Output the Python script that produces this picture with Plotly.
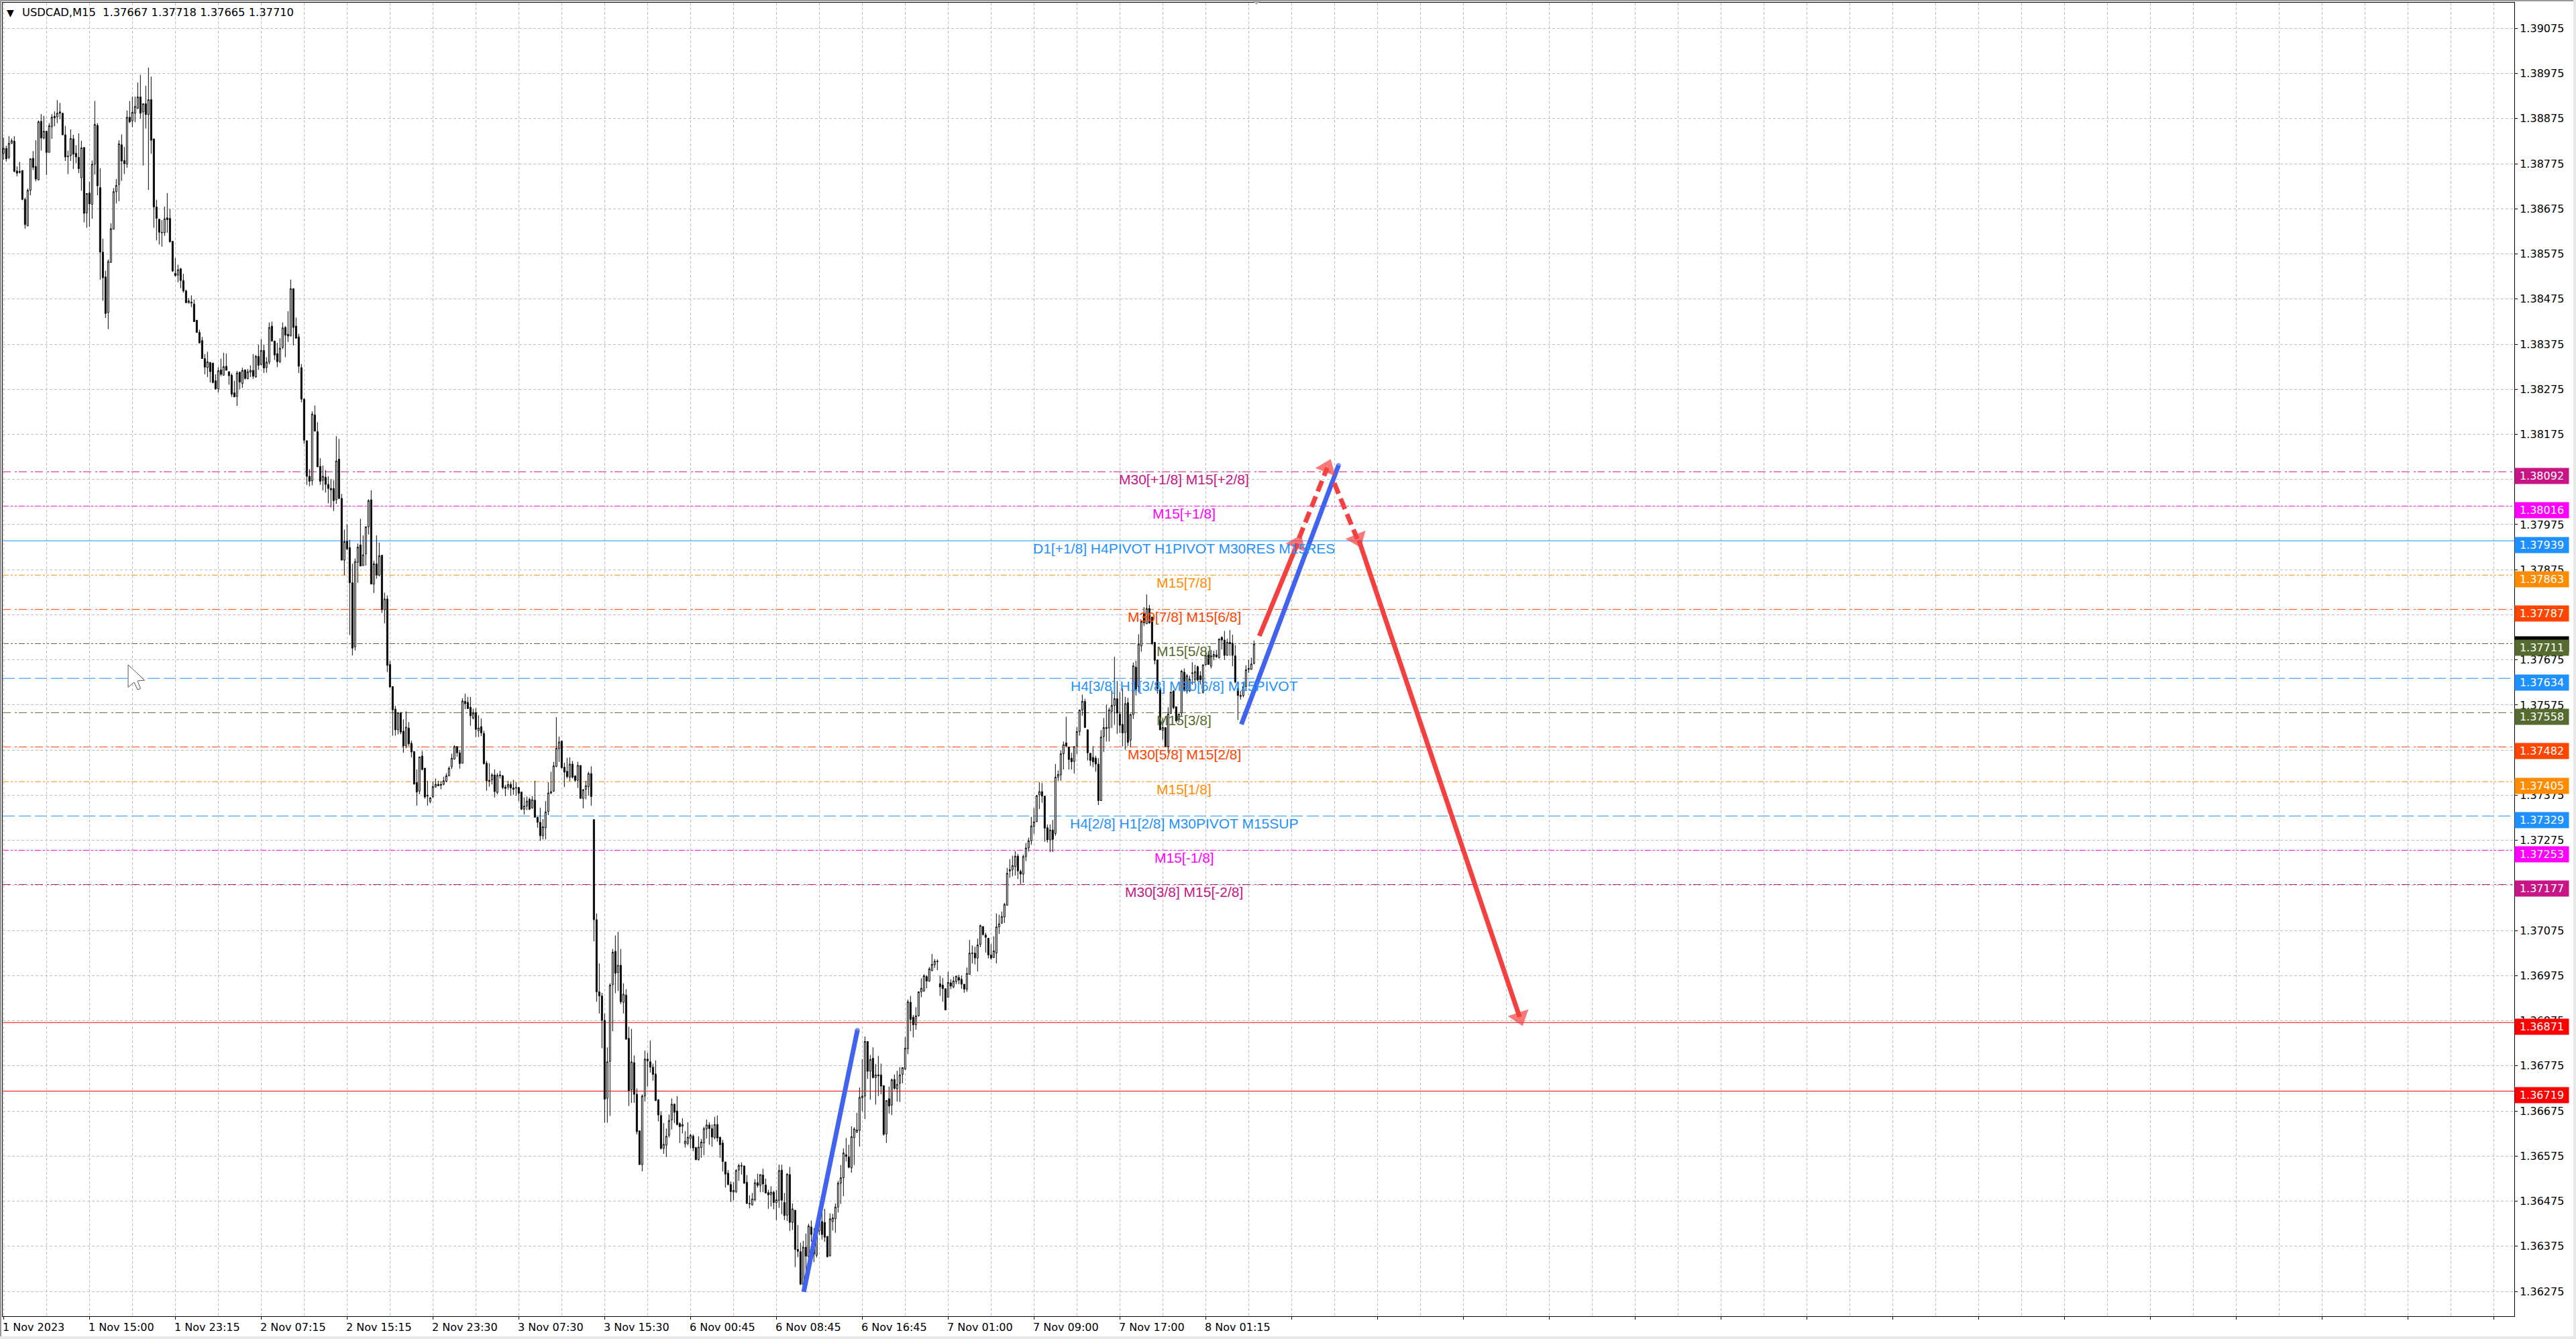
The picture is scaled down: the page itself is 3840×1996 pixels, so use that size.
import numpy as np
import plotly.graph_objects as go

# USDCAD M15 candles, values are price above 1.3 in 1e-5 units (8798 = 1.38798)
bar_open = [
    8798, 8809, 8789, 8820, 8825, 8759, 8758, 8760, 8696, 8637, 8716, 8787, 8769, 8739, 8869, 8832,
    8847, 8800, 8857, 8880, 8879, 8890, 8887, 8839, 8792, 8793, 8830, 8798, 8789, 8744, 8811, 8666,
    8710, 8685, 8774, 8860, 8722, 8579, 8524, 8445, 8556, 8630, 8713, 8729, 8817, 8782, 8774, 8878,
    8870, 8887, 8898, 8923, 8890, 8908, 8884, 8917, 8830, 8679, 8652, 8623, 8622, 8655, 8654, 8603,
    8532, 8528, 8542, 8516, 8493, 8466, 8468, 8464, 8428, 8401, 8383, 8343, 8323, 8334, 8333, 8294,
    8276, 8318, 8306, 8326, 8314, 8306, 8267, 8259, 8313, 8288, 8318, 8298, 8313, 8317, 8302, 8348,
    8330, 8361, 8323, 8335, 8415, 8382, 8354, 8336, 8368, 8412, 8397, 8393, 8498, 8415, 8391, 8323,
    8253, 8161, 8082, 8072, 8218, 8181, 8104, 8073, 8080, 8064, 8055, 8055, 8030, 8120, 8033, 7896,
    7938, 7924, 7846, 7704, 7891, 7930, 7884, 7910, 7970, 8030, 7843, 7888, 7863, 7907, 7786, 7810,
    7665, 7616, 7566, 7520, 7558, 7517, 7485, 7524, 7490, 7472, 7403, 7384, 7462, 7435, 7373, 7361,
    7371, 7393, 7399, 7399, 7399, 7406, 7418, 7438, 7455, 7483, 7469, 7446, 7583, 7581, 7570, 7546,
    7558, 7518, 7527, 7512, 7446, 7408, 7409, 7420, 7381, 7420, 7418, 7393, 7393, 7399, 7391, 7392,
    7392, 7382, 7344, 7351, 7366, 7347, 7364, 7326, 7315, 7285, 7303, 7339, 7380, 7384, 7439, 7478,
    7495, 7437, 7428, 7415, 7444, 7418, 7408, 7441, 7368, 7388, 7394, 7423, 7321, 7099, 6939, 6930,
    6876, 6703, 6785, 6955, 7029, 6982, 6998, 6916, 6932, 6836, 6722, 6782, 6712, 6631, 6556, 6708,
    6790, 6784, 6772, 6757, 6700, 6665, 6592, 6599, 6621, 6655, 6690, 6675, 6647, 6641, 6602, 6603,
    6614, 6619, 6594, 6567, 6594, 6604, 6635, 6644, 6636, 6616, 6645, 6617, 6604, 6562, 6537, 6512,
    6495, 6496, 6544, 6554, 6553, 6517, 6470, 6467, 6478, 6516, 6510, 6533, 6511, 6494, 6489, 6495,
    6472, 6477, 6544, 6472, 6444, 6534, 6428, 6455, 6368, 6363, 6290, 6373, 6352, 6418, 6401, 6355,
    6409, 6430, 6428, 6397, 6354, 6430, 6436, 6462, 6515, 6527, 6578, 6573, 6549, 6616, 6628, 6632,
    6704, 6708, 6829, 6763, 6792, 6749, 6755, 6755, 6731, 6624, 6702, 6688, 6745, 6724, 6736, 6756,
    6768, 6813, 6916, 6883, 6866, 6886, 6939, 6941, 6973, 6963, 6986, 6999, 7007, 6957, 6954, 6946,
    6927, 6959, 6950, 6962, 6971, 6967, 6956, 6945, 6978, 7024, 7025, 7014, 7044, 7084, 7065, 7058,
    7021, 7015, 7025, 7083, 7091, 7105, 7131, 7207, 7210, 7217, 7240, 7206, 7200, 7239, 7258, 7274,
    7306, 7316, 7376, 7383, 7373, 7303, 7276, 7298, 7290, 7415, 7420, 7467, 7491, 7482, 7457, 7450,
    7484, 7516, 7564, 7583, 7520, 7468, 7459, 7457, 7444, 7363, 7505, 7525, 7524, 7561, 7574, 7589,
    7555, 7532, 7514, 7580, 7497, 7554, 7659, 7616, 7706, 7778, 7755, 7789, 7770, 7714, 7675, 7611,
    7519, 7525, 7483, 7556, 7606, 7571, 7544, 7557, 7648, 7606, 7606, 7645, 7631, 7660, 7640, 7603,
    7664, 7686, 7661, 7682, 7686, 7680, 7725, 7719, 7685, 7714, 7712, 7684, 7612, 7594, 7596, 7616,
    7656, 7654, 7667,
]
bar_high = [
    8833, 8815, 8836, 8831, 8836, 8769, 8779, 8760, 8700, 8720, 8786, 8803, 8827, 8871, 8885, 8881,
    8847, 8865, 8885, 8891, 8916, 8910, 8887, 8859, 8804, 8851, 8839, 8816, 8842, 8826, 8811, 8709,
    8735, 8782, 8914, 8865, 8765, 8609, 8538, 8563, 8643, 8721, 8741, 8827, 8840, 8812, 8893, 8914,
    8924, 8924, 8955, 8972, 8908, 8948, 8988, 8968, 8831, 8695, 8653, 8650, 8680, 8710, 8675, 8603,
    8566, 8551, 8544, 8531, 8496, 8477, 8483, 8474, 8428, 8407, 8391, 8353, 8358, 8336, 8333, 8308,
    8324, 8343, 8356, 8354, 8314, 8310, 8294, 8316, 8313, 8323, 8319, 8320, 8328, 8353, 8351, 8374,
    8386, 8374, 8346, 8423, 8425, 8382, 8378, 8388, 8423, 8415, 8448, 8518, 8498, 8434, 8398, 8331,
    8255, 8161, 8098, 8226, 8239, 8202, 8122, 8106, 8096, 8082, 8076, 8073, 8171, 8165, 8043, 7964,
    7975, 7941, 7888, 7900, 7933, 7988, 7951, 7971, 8031, 8051, 7895, 7951, 7935, 7907, 7824, 7818,
    7673, 7616, 7573, 7559, 7559, 7543, 7561, 7537, 7496, 7472, 7432, 7460, 7473, 7435, 7407, 7371,
    7406, 7412, 7407, 7406, 7416, 7424, 7439, 7467, 7486, 7483, 7475, 7590, 7600, 7593, 7593, 7567,
    7568, 7552, 7545, 7518, 7451, 7446, 7424, 7432, 7424, 7429, 7420, 7398, 7407, 7404, 7409, 7404,
    7394, 7383, 7370, 7372, 7370, 7373, 7407, 7327, 7347, 7322, 7362, 7404, 7427, 7449, 7548, 7505,
    7496, 7447, 7458, 7459, 7451, 7418, 7449, 7441, 7389, 7407, 7427, 7439, 7321, 7113, 7002, 6937,
    6891, 6816, 6958, 7034, 7064, 7072, 7034, 6958, 6945, 6862, 6857, 6798, 6725, 6631, 6712, 6809,
    6804, 6831, 6780, 6787, 6701, 6674, 6648, 6636, 6667, 6703, 6692, 6708, 6650, 6659, 6630, 6650,
    6625, 6623, 6595, 6619, 6613, 6640, 6656, 6650, 6645, 6662, 6665, 6617, 6611, 6562, 6544, 6519,
    6517, 6546, 6558, 6561, 6554, 6533, 6488, 6493, 6524, 6536, 6534, 6547, 6525, 6500, 6508, 6498,
    6500, 6556, 6556, 6493, 6537, 6551, 6470, 6455, 6422, 6383, 6387, 6403, 6425, 6432, 6415, 6420,
    6460, 6460, 6458, 6397, 6448, 6447, 6470, 6520, 6555, 6592, 6615, 6600, 6641, 6639, 6671, 6727,
    6790, 6840, 6829, 6799, 6816, 6779, 6797, 6780, 6732, 6698, 6729, 6747, 6756, 6764, 6772, 6772,
    6839, 6922, 6930, 6888, 6905, 6940, 6969, 6978, 6976, 6994, 7023, 7012, 7011, 6975, 6970, 6946,
    6983, 6967, 6973, 6975, 6977, 6975, 6956, 6993, 7054, 7042, 7039, 7057, 7088, 7084, 7070, 7058,
    7045, 7062, 7113, 7110, 7117, 7136, 7214, 7233, 7241, 7251, 7245, 7210, 7243, 7269, 7281, 7327,
    7347, 7375, 7404, 7402, 7373, 7310, 7310, 7320, 7444, 7430, 7474, 7494, 7549, 7482, 7469, 7483,
    7526, 7564, 7598, 7589, 7521, 7468, 7484, 7462, 7457, 7519, 7546, 7576, 7569, 7608, 7682, 7628,
    7604, 7612, 7593, 7591, 7556, 7669, 7673, 7732, 7762, 7792, 7820, 7797, 7770, 7714, 7675, 7611,
    7546, 7525, 7570, 7604, 7608, 7571, 7555, 7653, 7656, 7644, 7640, 7670, 7664, 7662, 7650, 7665,
    7695, 7695, 7697, 7695, 7697, 7723, 7727, 7739, 7722, 7741, 7731, 7708, 7626, 7606, 7626, 7663,
    7675, 7680, 7718,
]
bar_low = [
    8784, 8780, 8785, 8819, 8756, 8747, 8753, 8694, 8631, 8637, 8705, 8761, 8736, 8739, 8804, 8829,
    8750, 8800, 8830, 8858, 8865, 8874, 8838, 8781, 8752, 8781, 8763, 8776, 8754, 8715, 8645, 8633,
    8635, 8653, 8751, 8705, 8518, 8471, 8433, 8408, 8556, 8629, 8687, 8692, 8737, 8752, 8766, 8865,
    8856, 8867, 8896, 8875, 8771, 8853, 8717, 8797, 8633, 8605, 8596, 8591, 8615, 8622, 8600, 8535,
    8525, 8512, 8499, 8489, 8466, 8466, 8457, 8424, 8400, 8376, 8343, 8308, 8302, 8290, 8288, 8274,
    8268, 8304, 8306, 8317, 8285, 8258, 8258, 8238, 8275, 8278, 8296, 8298, 8302, 8298, 8301, 8318,
    8328, 8311, 8312, 8330, 8380, 8340, 8324, 8333, 8364, 8346, 8380, 8393, 8372, 8388, 8311, 8246,
    8154, 8063, 8060, 8062, 8182, 8103, 8063, 8051, 8046, 8022, 8013, 8005, 8021, 8031, 7896, 7863,
    7918, 7730, 7685, 7696, 7846, 7883, 7884, 7884, 7953, 7843, 7823, 7855, 7860, 7779, 7756, 7648,
    7613, 7507, 7507, 7510, 7510, 7469, 7479, 7484, 7459, 7398, 7352, 7377, 7430, 7367, 7352, 7357,
    7370, 7392, 7396, 7388, 7397, 7404, 7417, 7433, 7454, 7460, 7434, 7445, 7566, 7567, 7529, 7543,
    7504, 7504, 7506, 7443, 7385, 7394, 7399, 7370, 7377, 7412, 7388, 7373, 7387, 7374, 7376, 7374,
    7362, 7342, 7332, 7342, 7342, 7345, 7325, 7303, 7274, 7277, 7277, 7331, 7377, 7382, 7437, 7449,
    7434, 7393, 7412, 7406, 7412, 7405, 7391, 7367, 7346, 7366, 7374, 7352, 7051, 6917, 6891, 6814,
    6649, 6649, 6664, 6852, 6936, 6941, 6912, 6891, 6833, 6686, 6693, 6693, 6623, 6556, 6541, 6696,
    6729, 6760, 6742, 6697, 6652, 6589, 6580, 6573, 6616, 6634, 6648, 6643, 6604, 6625, 6594, 6599,
    6592, 6586, 6566, 6565, 6571, 6577, 6614, 6600, 6596, 6612, 6607, 6571, 6541, 6505, 6510, 6473,
    6477, 6493, 6520, 6534, 6513, 6469, 6459, 6465, 6475, 6505, 6495, 6495, 6493, 6458, 6463, 6457,
    6433, 6460, 6446, 6433, 6431, 6409, 6411, 6329, 6351, 6289, 6284, 6318, 6318, 6385, 6340, 6350,
    6400, 6390, 6385, 6350, 6352, 6410, 6405, 6450, 6469, 6486, 6563, 6548, 6538, 6555, 6626, 6596,
    6674, 6657, 6746, 6700, 6747, 6689, 6708, 6712, 6620, 6604, 6669, 6666, 6722, 6696, 6695, 6736,
    6766, 6801, 6852, 6838, 6855, 6884, 6927, 6939, 6947, 6961, 6985, 6992, 6987, 6930, 6917, 6899,
    6927, 6945, 6947, 6956, 6956, 6946, 6937, 6939, 6977, 7002, 7000, 6984, 7038, 7064, 7026, 7013,
    7010, 7015, 7002, 7067, 7091, 7092, 7131, 7192, 7195, 7197, 7189, 7178, 7181, 7229, 7250, 7265,
    7289, 7316, 7344, 7358, 7272, 7270, 7249, 7249, 7285, 7407, 7407, 7432, 7482, 7432, 7432, 7423,
    7466, 7507, 7551, 7524, 7452, 7440, 7437, 7427, 7353, 7363, 7471, 7494, 7494, 7524, 7531, 7511,
    7513, 7483, 7476, 7484, 7482, 7544, 7596, 7603, 7693, 7750, 7755, 7755, 7708, 7665, 7600, 7519,
    7498, 7483, 7469, 7556, 7566, 7536, 7536, 7551, 7606, 7600, 7604, 7620, 7625, 7628, 7620, 7600,
    7663, 7664, 7656, 7674, 7679, 7678, 7698, 7675, 7684, 7684, 7661, 7623, 7542, 7587, 7592, 7606,
    7646, 7653, 7665,
]
bar_close = [
    8809, 8786, 8820, 8826, 8758, 8754, 8756, 8696, 8640, 8716, 8786, 8767, 8741, 8868, 8832, 8847,
    8800, 8859, 8878, 8877, 8887, 8887, 8839, 8790, 8791, 8831, 8796, 8790, 8764, 8810, 8665, 8709,
    8686, 8774, 8862, 8726, 8579, 8522, 8443, 8558, 8631, 8713, 8727, 8819, 8781, 8775, 8878, 8868,
    8889, 8902, 8923, 8887, 8908, 8884, 8917, 8827, 8679, 8654, 8623, 8622, 8653, 8651, 8602, 8537,
    8527, 8540, 8516, 8493, 8467, 8471, 8466, 8425, 8401, 8378, 8343, 8324, 8336, 8314, 8290, 8276,
    8316, 8308, 8325, 8317, 8305, 8264, 8258, 8311, 8291, 8317, 8299, 8314, 8317, 8304, 8348, 8328,
    8361, 8322, 8335, 8412, 8382, 8351, 8336, 8366, 8411, 8395, 8393, 8498, 8412, 8388, 8326, 8253,
    8162, 8082, 8071, 8220, 8182, 8103, 8071, 8082, 8064, 8055, 8052, 8028, 8116, 8033, 7896, 7937,
    7921, 7846, 7701, 7893, 7925, 7883, 7908, 7970, 8028, 7843, 7888, 7863, 7906, 7786, 7810, 7663,
    7615, 7564, 7520, 7558, 7515, 7484, 7526, 7489, 7471, 7400, 7382, 7460, 7432, 7371, 7375, 7369,
    7394, 7399, 7396, 7397, 7407, 7418, 7435, 7457, 7483, 7469, 7445, 7584, 7578, 7567, 7551, 7557,
    7521, 7524, 7513, 7445, 7407, 7406, 7420, 7383, 7419, 7418, 7392, 7390, 7399, 7391, 7388, 7391,
    7379, 7344, 7351, 7362, 7344, 7365, 7326, 7315, 7285, 7305, 7338, 7380, 7383, 7440, 7479, 7493,
    7436, 7426, 7416, 7444, 7415, 7408, 7441, 7368, 7387, 7396, 7423, 7372, 7099, 6939, 6930, 6876,
    6701, 6784, 6954, 7027, 6980, 6998, 6917, 6934, 6834, 6720, 6784, 6712, 6629, 6556, 6708, 6790,
    6786, 6772, 6756, 6698, 6666, 6592, 6601, 6619, 6654, 6690, 6672, 6645, 6640, 6645, 6608, 6617,
    6621, 6593, 6567, 6595, 6606, 6636, 6644, 6636, 6617, 6645, 6615, 6600, 6563, 6535, 6512, 6496,
    6499, 6543, 6554, 6553, 6515, 6470, 6469, 6480, 6516, 6510, 6534, 6513, 6493, 6489, 6495, 6472,
    6478, 6543, 6477, 6443, 6535, 6428, 6458, 6368, 6364, 6291, 6373, 6353, 6420, 6401, 6358, 6409,
    6450, 6401, 6395, 6352, 6436, 6438, 6462, 6515, 6527, 6582, 6574, 6550, 6618, 6635, 6633, 6705,
    6708, 6829, 6763, 6789, 6749, 6755, 6753, 6730, 6623, 6698, 6686, 6744, 6725, 6734, 6755, 6771,
    6814, 6917, 6878, 6866, 6886, 6939, 6947, 6975, 6963, 6990, 7000, 7007, 7006, 6950, 6946, 6899,
    6960, 6952, 6963, 6974, 6965, 6956, 6945, 6980, 7025, 7025, 7014, 7043, 7086, 7066, 7060, 7021,
    7014, 7030, 7083, 7090, 7106, 7133, 7202, 7210, 7219, 7240, 7207, 7200, 7239, 7258, 7274, 7307,
    7316, 7374, 7383, 7373, 7302, 7276, 7298, 7277, 7415, 7421, 7467, 7487, 7484, 7454, 7449, 7483,
    7516, 7564, 7583, 7525, 7469, 7452, 7449, 7444, 7363, 7504, 7525, 7523, 7564, 7574, 7589, 7557,
    7530, 7513, 7578, 7492, 7554, 7662, 7610, 7710, 7760, 7757, 7789, 7757, 7711, 7674, 7611, 7520,
    7525, 7483, 7555, 7604, 7569, 7540, 7555, 7650, 7606, 7640, 7632, 7646, 7649, 7630, 7631, 7664,
    7685, 7665, 7684, 7687, 7682, 7721, 7719, 7685, 7714, 7711, 7685, 7626, 7596, 7596, 7616, 7653,
    7654, 7666, 7710,
]

date_labels = [
    "1 Nov 2023", "1 Nov 15:00", "1 Nov 23:15", "2 Nov 07:15", "2 Nov 15:15",
    "2 Nov 23:30", "3 Nov 07:30", "3 Nov 15:30", "6 Nov 00:45", "6 Nov 08:45",
    "6 Nov 16:45", "7 Nov 01:00", "7 Nov 09:00", "7 Nov 17:00", "8 Nov 01:15",
]

# Murrey math levels and their captions
level_price = [1.38092, 1.38016, 1.37939, 1.37863, 1.37787, 1.37711, 1.37634,
               1.37558, 1.37482, 1.37405, 1.37329, 1.37253, 1.37177]
level_color = ["#C71585", "#FF00FF", "#1E90FF", "#FF8C00", "#FF4500", "#556B2F", "#1E90FF",
               "#556B2F", "#FF4500", "#FF8C00", "#1E90FF", "#FF00FF", "#C71585"]
level_dash = ["dashdot", "dotdot", "solid", "dotdot", "dashdot", "dotdot", "long",
              "dashdot", "dashdot", "dotdot", "long", "dotdot", "dashdot"]
level_text = [
    "M30[+1/8] M15[+2/8]", "M15[+1/8]", "D1[+1/8] H4PIVOT H1PIVOT M30RES M15RES",
    "M15[7/8]", "M30[7/8] M15[6/8]", "M15[5/8]", "H4[3/8] H1[3/8] M30[6/8] M15PIVOT",
    "M15[3/8]", "M30[5/8] M15[2/8]", "M15[1/8]", "H4[2/8] H1[2/8] M30PIVOT M15SUP",
    "M15[-1/8]", "M30[3/8] M15[-2/8]",
]
red_levels = [1.36871, 1.36719]
last_price = 1.37710

# trend strokes: bar number and price at both ends
blue_a_x, blue_a_y = [298.2, 318.2], [1.36274, 1.36854]
blue_b_x, blue_b_y = [461.3, 497.5], [1.37532, 1.38106]
red_a_x, red_a_y = [468.0, 482.2], [1.37728, 1.37933]
red_b_x, red_b_y = [482.8, 493.3], [1.37945, 1.38101]
red_c_x, red_c_y = [495.9, 504.5], [1.38067, 1.37943]
red_d_x, red_d_y = [505.1, 565.0], [1.37940, 1.36883]

W, H = 3840, 1996
LEFT, RIGHT, TOP, BOTTOM = 4, 3748, 4, 1962
DASHES = {
    "solid": "solid",
    "long": "18px,6px",
    "dashdot": "12px,6px,3px,3px",
    "dotdot": "9px,3px,3px,3px,3px,3px",
}
BLUE = "#4163F0"
RED = "#F44040"
UI_FONT = "DejaVu Sans"


def px_x(x):
    return (x - LEFT) / (RIGHT - LEFT)


def px_y(y):
    return 1 - (y - TOP) / (BOTTOM - TOP)


def to_price(values):
    return 1.3 + np.array(values) / 1e5


bars = list(range(len(bar_open)))
fig = go.Figure()

fig.add_trace(go.Candlestick(
    x=bars,
    open=to_price(bar_open),
    high=to_price(bar_high),
    low=to_price(bar_low),
    close=to_price(bar_close),
    increasing=dict(line=dict(color="black", width=1), fillcolor="white"),
    decreasing=dict(line=dict(color="black", width=1), fillcolor="black"),
    whiskerwidth=0,
    showlegend=False,
))


def add_stroke(xs, ys, color, width, dash="solid", arrow=False):
    fig.add_trace(go.Scatter(
        x=xs, y=ys,
        mode="lines+markers",
        line=dict(color=color, width=width, dash=dash),
        marker=dict(
            color=color,
            size=[width, 28] if arrow else [width, width],
            symbol=["circle", "triangle-up"] if arrow else ["circle", "circle"],
            angleref="previous",
            line=dict(width=0),
        ),
        showlegend=False,
        hoverinfo="skip",
    ))


add_stroke(blue_a_x, blue_a_y, BLUE, 7)
add_stroke(blue_b_x, blue_b_y, BLUE, 7)
add_stroke(red_a_x, red_a_y, RED, 7, arrow=True)
add_stroke(red_b_x, red_b_y, RED, 7, dash="17px,8px", arrow=True)
add_stroke(red_c_x, red_c_y, RED, 7, dash="17px,8px", arrow=True)
add_stroke(red_d_x, red_d_y, RED, 7, arrow=True)

# level lines sit behind the candles
for price, color, dash in zip(level_price, level_color, level_dash):
    fig.add_shape(type="line", xref="paper", yref="y", x0=0, x1=1, y0=price, y1=price,
                  layer="below", line=dict(color=color, width=1, dash=DASHES[dash]))
for price in red_levels:
    fig.add_shape(type="line", xref="paper", yref="y", x0=0, x1=1, y0=price, y1=price,
                  layer="below", line=dict(color="#FF0000", width=1))


def price_tag(price, color, yshift=-6):
    fig.add_annotation(
        xref="paper", yref="y", x=px_x(RIGHT), y=price, yshift=yshift,
        xanchor="left", yanchor="middle", width=80, height=23, borderpad=0,
        text=f"{price:.5f}", showarrow=False, align="center", bgcolor=color,
        font=dict(family=UI_FONT, size=16, color="white"),
    )


for price, color, caption in zip(level_price, level_color, level_text):
    fig.add_annotation(
        x=440, y=price, yshift=-11, xanchor="center", yanchor="middle",
        text=caption, showarrow=False,
        font=dict(family="Liberation Sans", size=21, color=color),
    )

price_tag(last_price, "black", yshift=0)
for price, color in zip(level_price, level_color):
    price_tag(price, color)
for price in red_levels:
    price_tag(price, "#FF0000")

# time labels start at their tick, so they are placed as left-anchored text
for k, label in enumerate(date_labels):
    fig.add_annotation(
        x=32 * k, yref="paper", y=px_y(1978), xanchor="left", yanchor="middle", xshift=-2,
        text=label, showarrow=False, borderpad=0,
        font=dict(family=UI_FONT, size=16, color="black"),
    )

fig.add_annotation(
    xref="paper", yref="paper", x=px_x(15), y=px_y(19), xanchor="center", yanchor="middle",
    text="▼", showarrow=False, font=dict(family=UI_FONT, size=14, color="black"),
)
fig.add_annotation(
    xref="paper", yref="paper", x=px_x(32), y=px_y(19), xanchor="left", yanchor="middle",
    text="USDCAD,M15&nbsp;&nbsp;1.37667 1.37718 1.37665 1.37710",
    showarrow=False, borderpad=0,
    font=dict(family=UI_FONT, size=16.3, color="black"),
)


def px_path(points):
    return "M " + " L ".join(f"{px_x(x)} {px_y(y)}" for x, y in points) + " Z"


# mouse pointer left on the screenshot
cursor = [(191, 991), (191, 1024.5), (200, 1017), (205, 1028), (209.5, 1026.5), (205, 1015), (215.5, 1014)]
fig.add_shape(type="path", xref="paper", yref="paper", path=px_path(cursor),
              fillcolor="white", line=dict(color="#555555", width=1))

# chart shift marker on the top edge
marker = [(1867, 1), (1879, 1), (1873, 7)]
fig.add_shape(type="path", xref="paper", yref="paper", path=px_path(marker),
              fillcolor="#B0B0B0", line=dict(width=0))

# window frame around the chart
frame = [((0, 0), (W, 2), "#9A9A9A"), ((0, 0), (2, H), "#9A9A9A"),
         ((0, 1992), (W, H), "#E8E8E8"), ((3836, 0), (W, H), "#E8E8E8")]
for (x0, y0), (x1, y1), color in frame:
    fig.add_shape(type="rect", xref="paper", yref="paper",
                  x0=px_x(x0), x1=px_x(x1), y0=px_y(y0), y1=px_y(y1),
                  fillcolor=color, line=dict(width=0))

grid = dict(gridcolor="#C0C0C0", gridwidth=1, griddash="4px,3px")

fig.update_layout(
    width=W, height=H,
    autosize=False,
    margin=dict(l=LEFT, r=W - RIGHT, t=TOP, b=H - BOTTOM, pad=0),
    paper_bgcolor="white",
    plot_bgcolor="white",
    showlegend=False,
    xaxis=dict(
        range=[(LEFT - 5.3) / 4, (RIGHT - 5.3) / 4],
        rangeslider=dict(visible=False),
        tickmode="linear", tick0=0, dtick=32,
        ticks="outside", ticklen=4, tickcolor="black", tickwidth=1,
        showticklabels=False,
        showgrid=True, **grid,
        minor=dict(dtick=16, tick0=0, showgrid=True, ticks="", **grid),
        showline=True, linecolor="black", linewidth=1, mirror=True,
        zeroline=False,
    ),
    yaxis=dict(
        side="right",
        range=[1.36220, 1.39132],
        tickmode="linear", tick0=1.36275, dtick=0.001,
        tickformat=".5f",
        ticks="outside", ticklen=4, tickcolor="black", tickwidth=1,
        tickfont=dict(family=UI_FONT, size=16, color="black"),
        showgrid=True, **grid,
        showline=True, linecolor="black", linewidth=1, mirror=True,
        zeroline=False,
    ),
)

fig.write_html("out.html", config=dict(displayModeBar=False),
               post_script="document.body.style.margin='0';")
